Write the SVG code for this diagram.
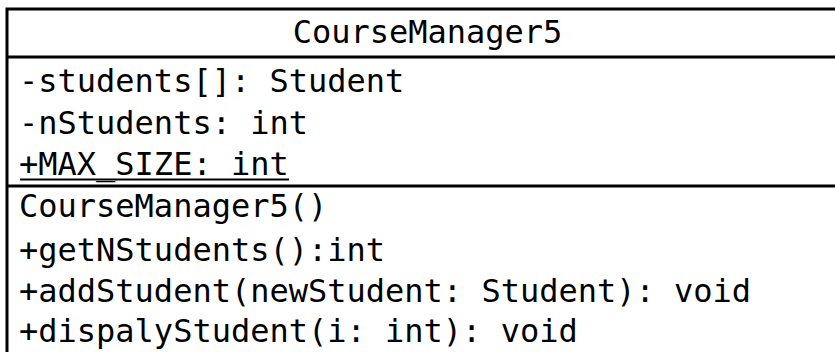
<svg xmlns="http://www.w3.org/2000/svg" width="835" height="352" viewBox="0 0 835 352">
  <style>
    .t { font-family: "DejaVu Sans Mono", "Liberation Mono", monospace; font-size: 32px; fill: #000; }
    .ln { stroke: #000; stroke-width: 3; fill: none; }
  </style>
  <rect width="835" height="352" fill="#fff"/>
  <g id="CourseManager5">
    <rect class="ln" x="7" y="9" width="841" height="400" fill="#fff"/>
    <line class="ln" x1="7" y1="57" x2="848" y2="57"/>
    <line class="ln" x1="7" y1="186" x2="848" y2="186"/>
    <text class="t" x="427.5" y="43" text-anchor="middle">CourseManager5</text>
    <g id="attributes">
      <text class="t" x="19" y="92">-students[]: Student</text>
      <text class="t" x="19" y="134">-nStudents: int</text>
      <text class="t" x="19" y="175">+MAX_SIZE: int</text>
      <line x1="20" y1="179.5" x2="289" y2="179.5" stroke="#000" stroke-width="2"/>
    </g>
    <g id="methods">
      <text class="t" x="19" y="217">CourseManager5()</text>
      <text class="t" x="19" y="261">+getNStudents():int</text>
      <text class="t" x="19" y="302">+addStudent(newStudent: Student): void</text>
      <text class="t" x="19" y="342">+dispalyStudent(i: int): void</text>
    </g>
  </g>
  <g id="connectors"/>
</svg>
